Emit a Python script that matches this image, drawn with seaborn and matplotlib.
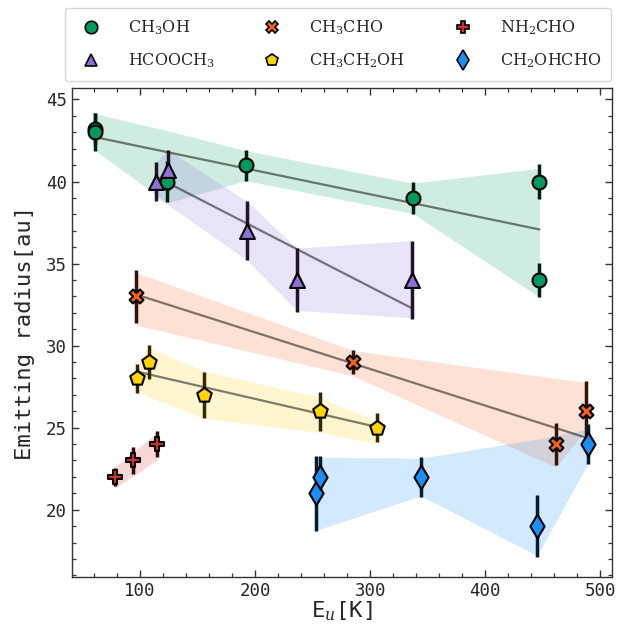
import numpy as np
import pandas as pd
import matplotlib
matplotlib.use("Agg")
import matplotlib.pyplot as plt
from matplotlib.lines import Line2D
from matplotlib.ticker import MultipleLocator
import seaborn as sns

# ---------------- data ----------------
molecules = ["CH3OH", "HCOOCH3", "CH3CHO", "CH3CH2OH", "NH2CHO", "CH2OHCHO"]
labels = [r"$\mathrm{CH_3OH}$", r"$\mathrm{HCOOCH_3}$", r"$\mathrm{CH_3CHO}$",
          r"$\mathrm{CH_3CH_2OH}$", r"$\mathrm{NH_2CHO}$", r"$\mathrm{CH_2OHCHO}$"]

ch3oh_x = [61, 61, 123.5, 192, 337, 447, 447]
ch3oh_y = [43.2, 43.0, 40.0, 41.0, 39.0, 40.0, 34.0]
ch3oh_err = [1.0, 1.15, 1.25, 0.95, 0.95, 1.05, 1.05]
ch3oh_band_x = [61, 123.5, 192, 337, 447]
ch3oh_band_lo = [41.9, 38.7, 40.05, 38.05, 32.96]
ch3oh_band_hi = [44.13, 43.1, 41.88, 39.9, 40.8]

hcooch3_x = [114, 124, 193, 236, 336]
hcooch3_y = [40.0, 40.7, 37.0, 34.0, 34.0]
hcooch3_err = [1.2, 1.2, 1.8, 1.95, 2.4]
hcooch3_band_x = [114, 124, 193, 236, 336]
hcooch3_band_lo = [39.0, 38.6, 35.2, 32.15, 31.7]
hcooch3_band_hi = [41.2, 41.94, 38.8, 35.95, 36.4]

ch3cho_x = [97, 285, 461, 487]
ch3cho_y = [33.0, 29.0, 24.0, 26.0]
ch3cho_err = [1.6, 0.75, 1.3, 1.85]
ch3cho_band_x = [97, 285, 461, 488]
ch3cho_band_lo = [31.25, 28.16, 22.6, 24.9]
ch3cho_band_hi = [34.45, 29.7, 28.0, 27.75]

ch3ch2oh_x = [97.7, 108, 156, 256, 306]
ch3ch2oh_y = [28.0, 29.0, 27.0, 26.0, 25.0]
ch3ch2oh_err = [0.9, 1.05, 1.4, 1.2, 0.9]
ch3ch2oh_band_x = [97.7, 108, 156, 256, 306]
ch3ch2oh_band_lo = [27.14, 26.86, 25.57, 24.7, 24.0]
ch3ch2oh_band_hi = [28.9, 29.87, 28.45, 26.85, 25.4]

nh2cho_x = [78, 94, 115]
nh2cho_y = [22.0, 23.0, 24.0]
nh2cho_err = [0.55, 0.8, 0.8]
nh2cho_band_x = [78, 94, 115]
nh2cho_band_lo = [21.3, 22.05, 23.04]
nh2cho_band_hi = [22.6, 23.5, 24.7]

ch2ohcho_x = [253, 256.5, 344, 445, 489]
ch2ohcho_y = [21.0, 22.0, 22.0, 19.0, 24.0]
ch2ohcho_err = [2.3, 1.3, 1.2, 1.9, 1.2]
ch2ohcho_band_x = [253, 256.5, 344, 445, 489]
ch2ohcho_band_lo = [18.75, 18.83, 20.85, 17.2, 22.8]
ch2ohcho_band_hi = [23.2, 23.2, 23.14, 24.3, 24.9]

series = {
    "CH3OH": (ch3oh_x, ch3oh_y, ch3oh_err, ch3oh_band_x, ch3oh_band_lo, ch3oh_band_hi, True),
    "HCOOCH3": (hcooch3_x, hcooch3_y, hcooch3_err, hcooch3_band_x, hcooch3_band_lo, hcooch3_band_hi, True),
    "CH3CHO": (ch3cho_x, ch3cho_y, ch3cho_err, ch3cho_band_x, ch3cho_band_lo, ch3cho_band_hi, True),
    "CH3CH2OH": (ch3ch2oh_x, ch3ch2oh_y, ch3ch2oh_err, ch3ch2oh_band_x, ch3ch2oh_band_lo, ch3ch2oh_band_hi, True),
    "NH2CHO": (nh2cho_x, nh2cho_y, nh2cho_err, nh2cho_band_x, nh2cho_band_lo, nh2cho_band_hi, False),
    "CH2OHCHO": (ch2ohcho_x, ch2ohcho_y, ch2ohcho_err, ch2ohcho_band_x, ch2ohcho_band_lo, ch2ohcho_band_hi, False),
}

colors = {"CH3OH": "#009a5e", "HCOOCH3": "#8f6fd6", "CH3CHO": "#f4621e",
          "CH3CH2OH": "#ffd400", "NH2CHO": "#d8302e", "CH2OHCHO": "#1a8ff5"}
markers = {"CH3OH": "o", "HCOOCH3": "^", "CH3CHO": "X",
           "CH3CH2OH": "p", "NH2CHO": "P", "CH2OHCHO": "d"}
sizes = {"CH3OH": 100, "HCOOCH3": 115, "CH3CHO": 100,
         "CH3CH2OH": 120, "NH2CHO": 100, "CH2OHCHO": 145}

# ---------------- style ----------------
sns.set_style("ticks")
plt.rcParams["font.family"] = ["DejaVu Sans Mono", "DejaVu Sans"]
plt.rcParams["mathtext.fontset"] = "dejavuserif"

fig = plt.figure(figsize=(6.29, 6.25), dpi=100)
ax = fig.add_axes([72 / 629, 1 - 577 / 625, (612 - 72) / 629, (577 - 88) / 625])


def dark(c, f=0.8):
    r, g, b = matplotlib.colors.to_rgb(c)
    return (r * (1 - f), g * (1 - f), b * (1 - f))


rows = []
for m in molecules:
    x, y, e, bx, blo, bhi, fit = series[m]
    c = colors[m]
    ax.fill_between(bx, blo, bhi, color=c, alpha=0.19, lw=0, zorder=1)
    if fit:
        xa, ya, ea = np.array(x), np.array(y), np.array(e)
        p = np.polyfit(xa, ya, 1, w=1.0 / ea)
        xs = np.array([xa.min(), xa.max()])
        line_df = pd.DataFrame({"x": xs, "y": np.polyval(p, xs)})
        sns.lineplot(data=line_df, x="x", y="y", ax=ax, color="k", alpha=0.5,
                     lw=1.6, zorder=2, legend=False)
    ax.errorbar(x, y, yerr=e, fmt="none", ecolor=dark(c), elinewidth=2.5,
                capsize=0, zorder=3)
    for xi, yi in zip(x, y):
        rows.append({"x": xi, "y": yi, "molecule": m})

df = pd.DataFrame(rows)
for m in molecules:
    sub = df[df["molecule"] == m]
    sns.scatterplot(data=sub, x="x", y="y", ax=ax, color=colors[m], marker=markers[m],
                    s=sizes[m], edgecolor="black", linewidth=1.5, zorder=4, legend=False)

ax.set_xlim(41, 510)
ax.set_ylim(15.9, 45.7)
ax.xaxis.set_major_locator(MultipleLocator(100))
ax.xaxis.set_minor_locator(MultipleLocator(20))
ax.yaxis.set_major_locator(MultipleLocator(5))
ax.yaxis.set_minor_locator(MultipleLocator(1))
ax.tick_params(which="both", direction="in", top=True, right=True, labelsize=12.5,
               color="#333333")
ax.tick_params(which="major", length=5, width=1)
ax.tick_params(which="minor", length=2.6, width=0.9)
for s in ax.spines.values():
    s.set_linewidth(1.0)
    s.set_color("#333333")

ax.set_xlabel(r"E$_u$[K]", fontsize=16, labelpad=0)
ax.set_ylabel("Emitting radius[au]", fontsize=16, labelpad=8)

handles = [Line2D([], [], ls="none", marker=markers[m], color=colors[m],
                  markeredgecolor="black", markeredgewidth=1.2,
                  markersize=(10 if m == "CH2OHCHO" else 9)) for m in molecules]
leg = fig.legend(handles, labels, loc="upper center",
                 bbox_to_anchor=(338 / 629, 1 - 8 / 625),
                 ncol=3, frameon=True, fancybox=True, borderaxespad=0,
                 prop={"family": "DejaVu Serif", "size": 11.5},
                 handletextpad=1.3, columnspacing=2.6, borderpad=0.65,
                 labelspacing=0.9)
leg.get_frame().set_edgecolor("#cccccc")

fig.savefig("out.png", dpi=100)
